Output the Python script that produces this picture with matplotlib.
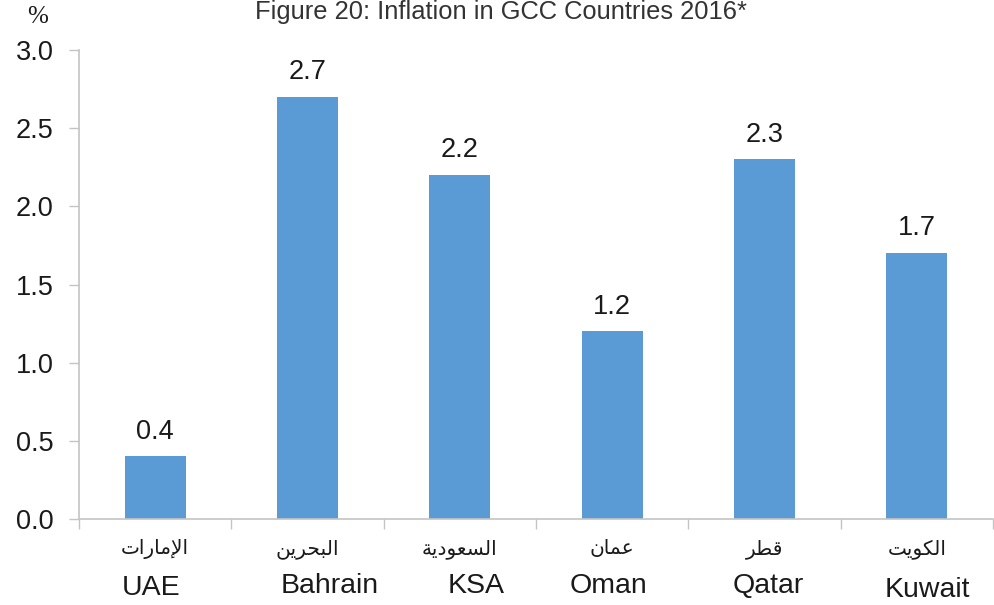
import numpy as np
import matplotlib.pyplot as plt
import matplotlib.transforms as mtransforms

plt.rcParams['font.family'] = ['Liberation Sans', 'DejaVu Sans']

countries_en = ['UAE', 'Bahrain', 'KSA', 'Oman', 'Qatar', 'Kuwait']
countries_ar = ['الإمارات', 'البحرين', 'السعودية', 'عمان', 'قطر', 'الكويت']
inflation = [0.4, 2.7, 2.2, 1.2, 2.3, 1.7]
yticks = [0.0, 0.5, 1.0, 1.5, 2.0, 2.5, 3.0]

# matplotlib has no arabic shaping, so pick presentation forms by hand
# (isolated, final, initial, medial)
FORMS = {
    'ا': ('\uFE8D', '\uFE8E', None, None),
    'إ': ('\uFE87', '\uFE88', None, None),
    '\uFEF9': ('\uFEF9', '\uFEFA', None, None),  # lam + alef hamza below
    'ب': ('\uFE8F', '\uFE90', '\uFE91', '\uFE92'),
    'ة': ('\uFE93', '\uFE94', None, None),
    'ت': ('\uFE95', '\uFE96', '\uFE97', '\uFE98'),
    'ح': ('\uFEA1', '\uFEA2', '\uFEA3', '\uFEA4'),
    'د': ('\uFEA9', '\uFEAA', None, None),
    'ر': ('\uFEAD', '\uFEAE', None, None),
    'س': ('\uFEB1', '\uFEB2', '\uFEB3', '\uFEB4'),
    'ط': ('\uFEC1', '\uFEC2', '\uFEC3', '\uFEC4'),
    'ع': ('\uFEC9', '\uFECA', '\uFECB', '\uFECC'),
    'ق': ('\uFED5', '\uFED6', '\uFED7', '\uFED8'),
    'ك': ('\uFED9', '\uFEDA', '\uFEDB', '\uFEDC'),
    'ل': ('\uFEDD', '\uFEDE', '\uFEDF', '\uFEE0'),
    'م': ('\uFEE1', '\uFEE2', '\uFEE3', '\uFEE4'),
    'ن': ('\uFEE5', '\uFEE6', '\uFEE7', '\uFEE8'),
    'و': ('\uFEED', '\uFEEE', None, None),
    'ي': ('\uFEF1', '\uFEF2', '\uFEF3', '\uFEF4'),
}


def shape(word):
    word = word.replace('لإ', '\uFEF9')
    letters = list(word)
    out = []
    for i, ch in enumerate(letters):
        f = FORMS[ch]
        prev_joins = i > 0 and FORMS[letters[i - 1]][2] is not None
        next_joins = i < len(letters) - 1 and f[2] is not None
        if prev_joins and next_joins:
            g = f[3]
        elif prev_joins:
            g = f[1]
        elif next_joins:
            g = f[2]
        else:
            g = f[0]
        out.append(g)
    return ''.join(reversed(out))


bar_color = '#5B9BD5'
axis_color = '#C4C4C4'
text_color = '#1a1a1a'

fig = plt.figure(figsize=(9.95, 6.05), dpi=100)
ax = fig.add_axes([0.0794, 0.1421, 0.9186, 0.7753])

x = np.arange(len(inflation))
ax.bar(x, inflation, width=0.4, color=bar_color, zorder=2)

for xi, v in zip(x, inflation):
    ax.annotate(f'{v:.1f}', (xi, v), xytext=(0, 8.5), textcoords='offset points',
                ha='center', va='bottom', fontsize=19.5, color=text_color)

ax.set_xlim(-0.5, len(inflation) - 0.5)
ax.set_ylim(0, 3.0)
ax.set_yticks(yticks)
ax.set_yticklabels([f'{t:.1f}' for t in yticks])
ax.tick_params(axis='y', labelsize=19.5, length=7, width=1, color=axis_color,
               pad=11.5, labelcolor=text_color)

ax.set_xticks(x)
ax.set_xticklabels([])
ax.tick_params(axis='x', which='major', length=0)
ax.set_xticks(np.arange(-0.5, len(inflation), 1.0), minor=True)
ax.tick_params(axis='x', which='minor', length=7, width=1, color=axis_color)

for s in ['top', 'right']:
    ax.spines[s].set_visible(False)
for s in ['left', 'bottom']:
    ax.spines[s].set_color(axis_color)
    ax.spines[s].set_linewidth(1.2)

# category labels: arabic on top, english below (english a bit off-centre)
trans = mtransforms.blended_transform_factory(ax.transData, fig.transFigure)
en_shift = [-0.026, 0.148, 0.105, -0.026, 0.026, 0.072]
en_base = [595, 593, 593, 593, 593, 597]
for xi, ar, en, dx, yb in zip(x, countries_ar, countries_en, en_shift, en_base):
    ax.text(xi, 0.093, shape(ar), transform=trans, ha='center', va='center',
            fontsize=14.5, family='DejaVu Sans', color=text_color)
    ax.text(xi + dx, 1 - yb / 605, en, transform=trans, ha='center',
            va='baseline', fontsize=20.5, color=text_color)

fig.text(0.503, 1 - 19 / 605, 'Figure 20: Inflation in GCC Countries 2016*',
         ha='center', va='baseline', fontsize=18.4, color='#333333')
fig.text(0.038, 1 - 17 / 605, '%', ha='center', va='center', fontsize=18,
         family='Liberation Serif', color=text_color)

fig.savefig('out.png', dpi=100)
